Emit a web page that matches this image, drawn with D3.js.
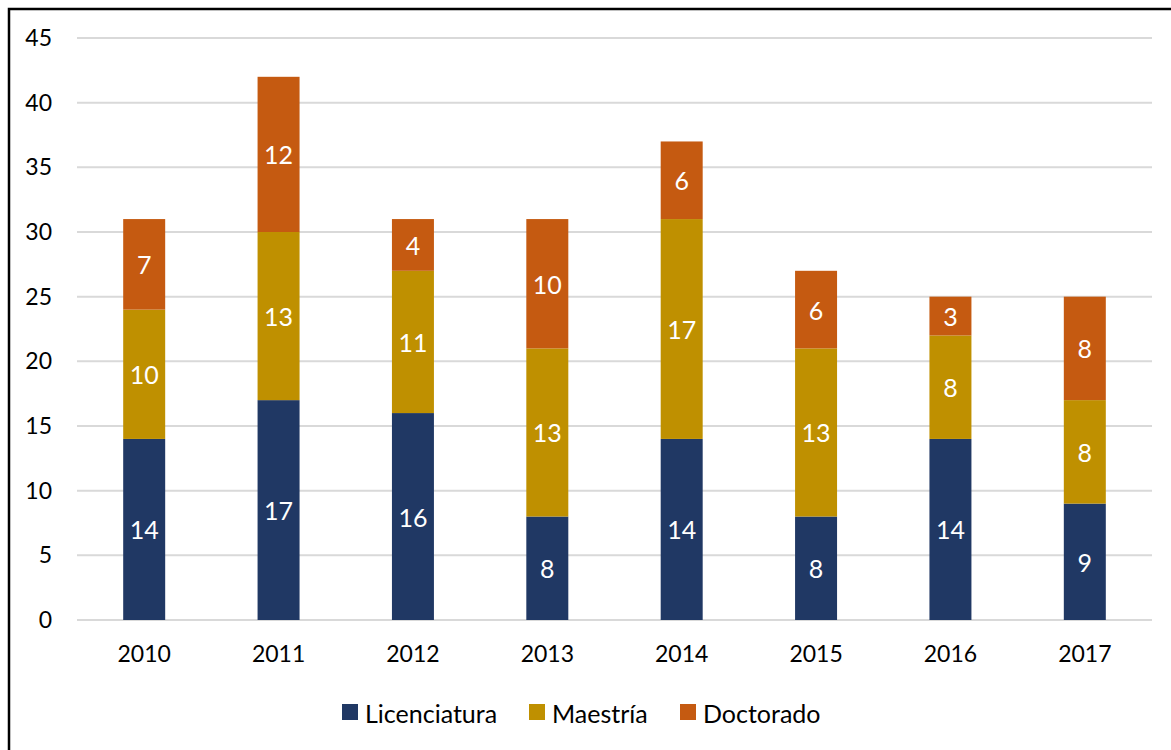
<!DOCTYPE html>
<html>
<head>
<meta charset="utf-8">
<script src="https://cdn.jsdelivr.net/npm/d3@7"></script>
<style>
  body { margin: 0; background: #fff; }
  svg { display: block; font-family: Lato, "Open Sans", sans-serif; }
</style>
</head>
<body>
<svg id="chart"></svg>
<script>
// data
const years = ['2010', '2011', '2012', '2013', '2014', '2015', '2016', '2017'];
const licenciatura = [14, 17, 16, 8, 14, 8, 14, 9];
const maestria = [10, 13, 11, 13, 17, 13, 8, 8];
const doctorado = [7, 12, 4, 10, 6, 6, 3, 8];
const seriesNames = ['Licenciatura', 'Maestría', 'Doctorado'];
const seriesKeys = ['lic', 'mae', 'doc'];
const colors = ['#203864', '#BF9000', '#C55A11'];
const yTicks = [0, 5, 10, 15, 20, 25, 30, 35, 40, 45];

const W = 1171, H = 750;
const margin = { top: 38, right: 19, bottom: 130, left: 77 };
const width = W - margin.left - margin.right;
const height = H - margin.top - margin.bottom;

const rows = years.map((y, i) => ({
  year: y, lic: licenciatura[i], mae: maestria[i], doc: doctorado[i],
}));

const svg = d3.select('#chart').attr('width', W).attr('height', H);

// outer frame (right/bottom edges fall outside the picture)
svg.append('rect')
  .attr('x', 9).attr('y', 9)
  .attr('width', W + 20).attr('height', H + 20)
  .attr('fill', 'none').attr('stroke', '#000').attr('stroke-width', 2.5);

const chart = svg.append('g')
  .attr('transform', `translate(${margin.left},${margin.top})`);

const x = d3.scaleBand().domain(years).range([0, width]).paddingInner(0.6875).paddingOuter(0.34375);
const y = d3.scaleLinear().domain([0, 45]).range([height, 0]);

// gridlines
chart.append('g')
  .selectAll('line')
  .data(yTicks)
  .join('line')
  .attr('x1', 0).attr('x2', width)
  .attr('y1', (d) => y(d)).attr('y2', (d) => y(d))
  .attr('stroke', '#D9D9D9').attr('stroke-width', 2);

// y axis labels
const yAxis = d3.axisLeft(y).tickValues(yTicks).tickSize(0).tickPadding(25);
chart.append('g').call(yAxis)
  .call((g) => g.select('.domain').remove())
  .selectAll('text')
  .attr('font-size', 23).attr('fill', '#000')
  .style('font-family', 'Lato, sans-serif');

// x axis labels
const xAxis = d3.axisBottom(x).tickSize(0).tickPadding(26);
chart.append('g').attr('transform', `translate(0,${height})`).call(xAxis)
  .call((g) => g.select('.domain').remove())
  .selectAll('text')
  .attr('font-size', 23).attr('fill', '#000')
  .style('font-family', 'Lato, sans-serif');

// stacked bars
const stacked = d3.stack().keys(seriesKeys)(rows);
const layers = chart.append('g')
  .selectAll('g')
  .data(stacked)
  .join('g')
  .attr('fill', (d, i) => colors[i]);

layers.selectAll('rect')
  .data((d) => d)
  .join('rect')
  .attr('x', (d) => x(d.data.year))
  .attr('y', (d) => y(d[1]))
  .attr('width', x.bandwidth())
  .attr('height', (d) => y(d[0]) - y(d[1]));

layers.selectAll('text')
  .data((d) => d)
  .join('text')
  .attr('x', (d) => x(d.data.year) + x.bandwidth() / 2)
  .attr('y', (d) => (y(d[0]) + y(d[1])) / 2)
  .attr('text-anchor', 'middle')
  .attr('dominant-baseline', 'central')
  .attr('fill', '#fff')
  .attr('font-size', 25)
  .text((d) => d[1] - d[0]);

// legend
const legendX = [342, 529, 680];
const legend = svg.append('g')
  .selectAll('g')
  .data(seriesNames)
  .join('g')
  .attr('transform', (d, i) => `translate(${legendX[i]},704)`);

legend.append('rect')
  .attr('width', 16).attr('height', 16)
  .attr('fill', (d, i) => colors[i]);

legend.append('text')
  .attr('x', 23).attr('y', 9)
  .attr('dominant-baseline', 'central')
  .attr('font-size', 25)
  .attr('fill', '#000')
  .text((d) => d);
</script>
</body>
</html>
